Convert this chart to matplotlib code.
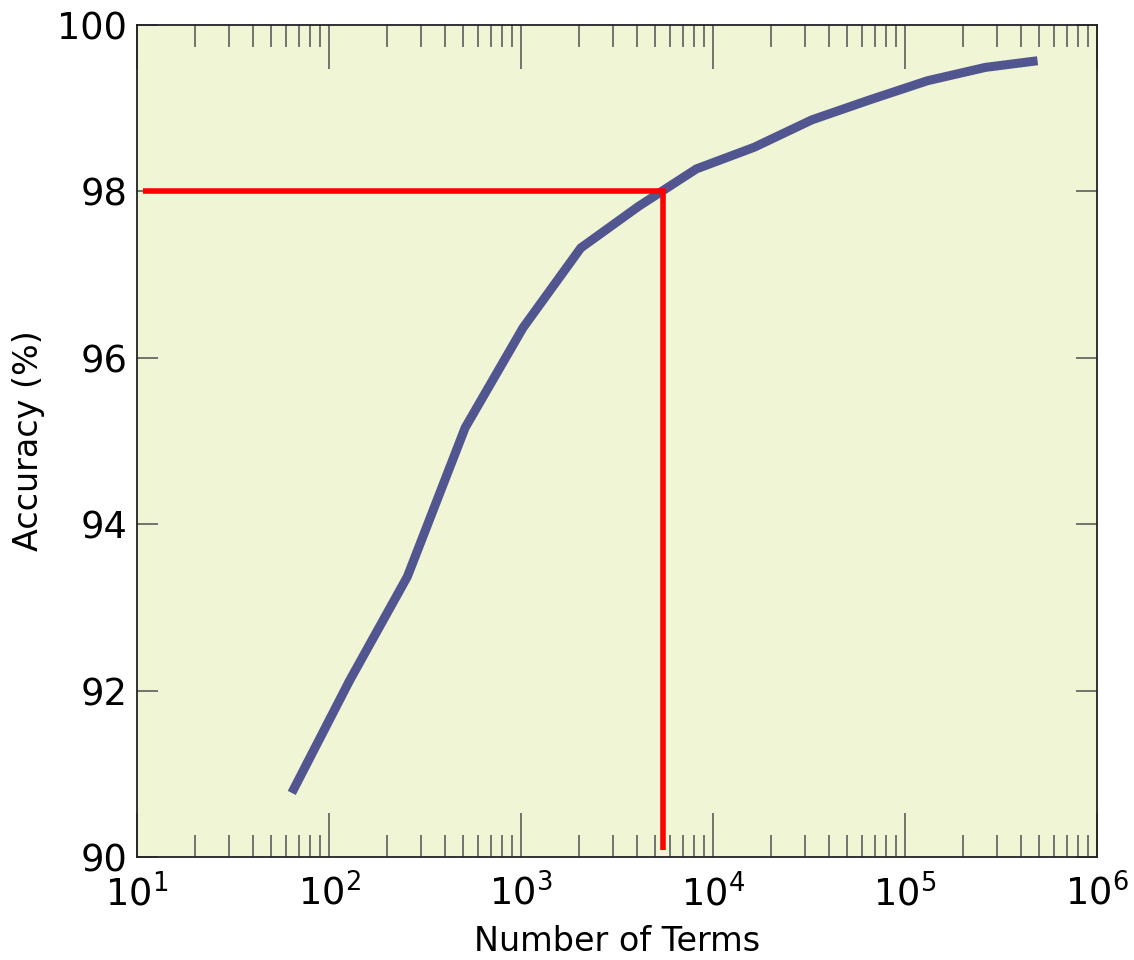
import numpy as np
import matplotlib
matplotlib.use("Agg")
import matplotlib.pyplot as plt
from matplotlib.ticker import LogLocator, FixedLocator

# vocabulary size vs. accuracy
n_terms = [64, 128, 256, 512, 1024, 2048, 4096, 8192, 16384, 32768,
           65536, 131072, 262144, 490000]
accuracy = [90.77, 92.12, 93.37, 95.16, 96.36, 97.32, 97.82, 98.27,
            98.53, 98.86, 99.10, 99.33, 99.49, 99.57]

# 98% guide
target_x = [10.7, 5500, 5500]
target_y = [98, 98, 90.08]

y_ticks = [90, 92, 94, 96, 98, 100]

fig = plt.figure(figsize=(11.34, 9.6), dpi=100)
ax = fig.add_axes([0.1208, 0.1073, 0.8466, 0.8667])
ax.set_facecolor("#f0f5d5")

ax.plot(n_terms, accuracy, color="#525690", linewidth=6.5,
        solid_capstyle="butt", solid_joinstyle="miter")
ax.plot(target_x, target_y, color="#ff0000", linewidth=4,
        solid_capstyle="butt", solid_joinstyle="miter")

ax.set_xscale("log")
ax.set_xlim(10, 1e6)
ax.set_ylim(90, 100)
ax.yaxis.set_major_locator(FixedLocator(y_ticks))
ax.xaxis.set_major_locator(LogLocator(base=10, numticks=10))
ax.xaxis.set_minor_locator(LogLocator(base=10, subs=np.arange(2, 10), numticks=20))

ax.tick_params(axis="both", which="both", direction="in", top=True, right=True,
               color="#505050", width=1.1, labelsize=26.5)
ax.tick_params(axis="x", which="major", length=32, pad=12)
ax.tick_params(axis="x", which="minor", length=16)
ax.tick_params(axis="y", which="major", length=15, pad=7)
ax.tick_params(axis="y", which="minor", length=0)

for s in ax.spines.values():
    s.set_color("#222222")
    s.set_linewidth(1.3)

ax.set_xlabel("Number of Terms", fontsize=24, labelpad=8)
ax.set_ylabel("Accuracy (%)", fontsize=24, labelpad=9)

fig.savefig("out.png", dpi=100)
